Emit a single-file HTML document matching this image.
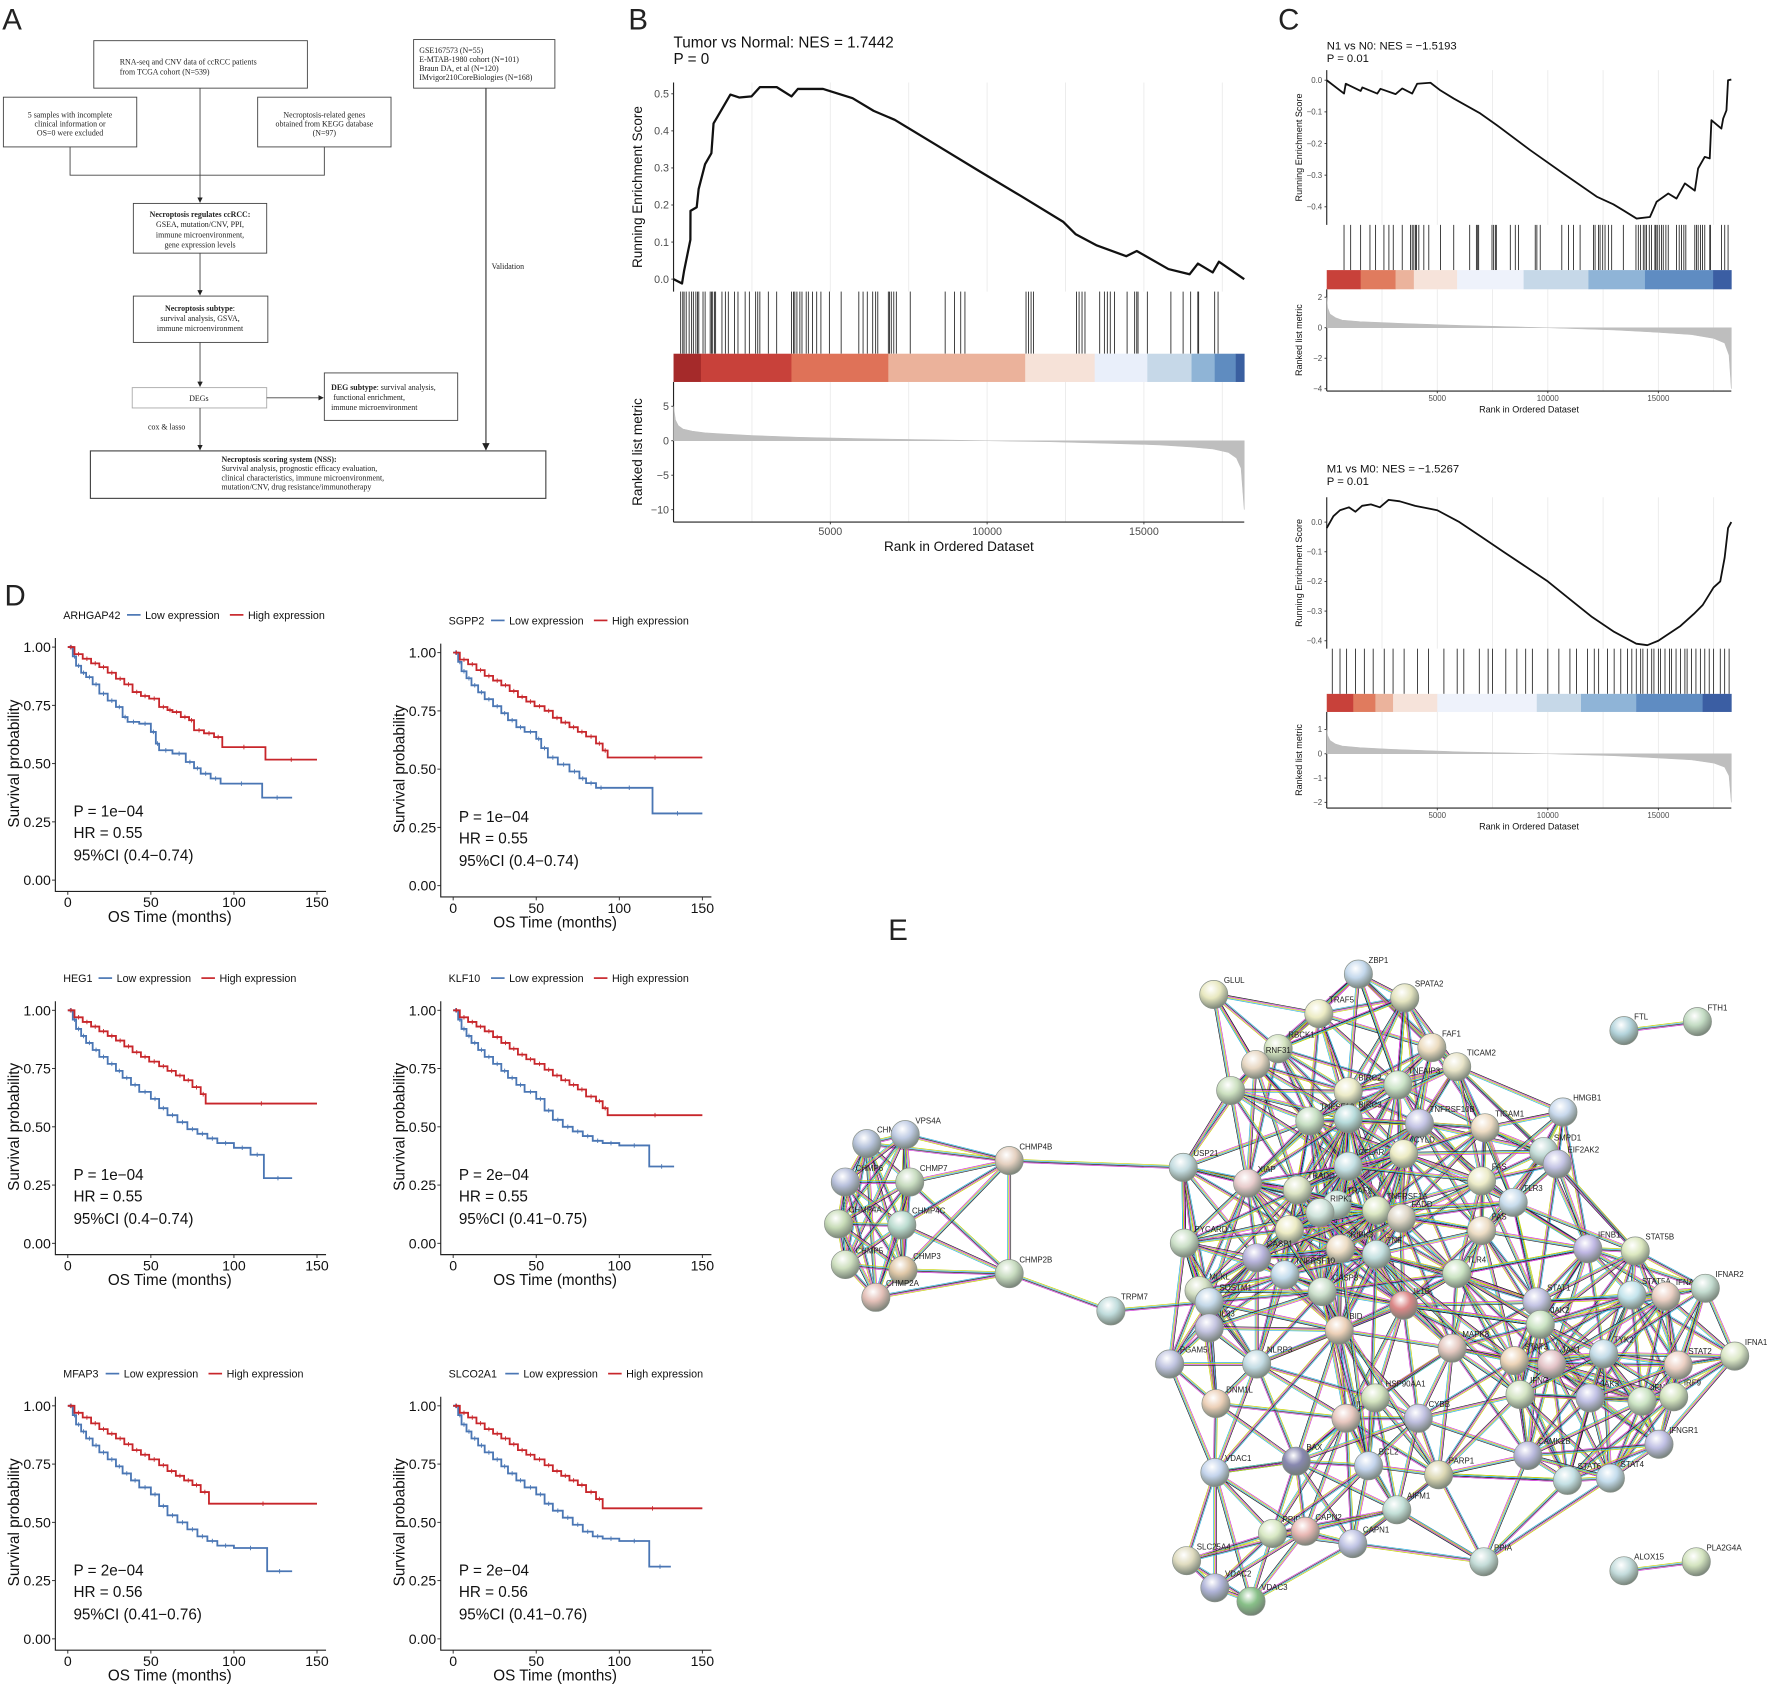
<!DOCTYPE html>
<html><head><meta charset="utf-8">
<style>
html,body{margin:0;padding:0;background:#fff;}
svg{display:block;}
.ff{font-family:"Liberation Serif",serif;}
.sf{font-family:"Liberation Sans",sans-serif;}
</style></head>
<body>
<svg id="fig" width="1772" height="1687" viewBox="0 0 1568 1492.8" preserveAspectRatio="none" xmlns="http://www.w3.org/2000/svg">
<defs>
<marker id="arr" viewBox="0 0 10 10" refX="9" refY="5" markerWidth="6" markerHeight="6" orient="auto"><path d="M0,0 L10,5 L0,10 z" fill="#222"/></marker>
</defs>
<g id="panelA" class="ff" font-size="7" fill="#222">
<text x="2" y="26" font-size="26" class="sf" font-family="Liberation Sans">A</text>
<g stroke="#444" stroke-width="0.8" fill="none">
<rect x="83" y="36" width="189" height="42"/>
<rect x="3" y="86" width="118" height="44"/>
<rect x="228" y="86" width="118" height="44"/>
<rect x="366" y="35" width="125" height="43"/>
<rect x="118" y="180" width="118" height="44"/>
<rect x="118" y="262" width="119" height="41"/>
<rect x="117" y="343" width="119" height="18" stroke="#aaa"/>
<rect x="287" y="330" width="118" height="42"/>
<rect x="80" y="399" width="403" height="42" stroke-width="1"/>
<polyline points="62,130 62,155 287,155 287,130"/>
<line x1="177" y1="78" x2="177" y2="179" marker-end="url(#arr)"/>
<line x1="177" y1="224" x2="177" y2="261" marker-end="url(#arr)"/>
<line x1="177" y1="303" x2="177" y2="342" marker-end="url(#arr)"/>
<line x1="236" y1="352" x2="286" y2="352" marker-end="url(#arr)"/>
<line x1="177" y1="361" x2="177" y2="398" marker-end="url(#arr)"/>
<line x1="430" y1="78" x2="430" y2="398" stroke-width="1.1" marker-end="url(#arr)"/>
</g>
<text x="106" y="57">RNA-seq and CNV data of ccRCC patients</text>
<text x="106" y="66">from TCGA cohort (N=539)</text>
<text x="62" y="104" text-anchor="middle">5 samples with incomplete</text>
<text x="62" y="112" text-anchor="middle">clinical information or</text>
<text x="62" y="120" text-anchor="middle">OS=0 were excluded</text>
<text x="287" y="104" text-anchor="middle">Necroptosis-related genes</text>
<text x="287" y="112" text-anchor="middle">obtained from KEGG database</text>
<text x="287" y="120" text-anchor="middle">(N=97)</text>
<text x="371" y="47">GSE167573 (N=55)</text>
<text x="371" y="55">E-MTAB-1980 cohort (N=101)</text>
<text x="371" y="63">Braun DA, et al (N=120)</text>
<text x="371" y="71">IMvigor210CoreBiologies (N=168)</text>
<text x="177" y="192" text-anchor="middle" font-weight="bold">Necroptosis regulates ccRCC:</text>
<text x="177" y="201" text-anchor="middle">GSEA, mutation/CNV, PPI,</text>
<text x="177" y="210" text-anchor="middle">immune microenvironment,</text>
<text x="177" y="219" text-anchor="middle">gene expression levels</text>
<text x="177" y="275" text-anchor="middle"><tspan font-weight="bold">Necroptosis subtype</tspan>:</text>
<text x="177" y="284" text-anchor="middle">survival analysis, GSVA,</text>
<text x="177" y="293" text-anchor="middle">immune microenvironment</text>
<text x="176" y="355" text-anchor="middle">DEGs</text>
<text x="293" y="345"><tspan font-weight="bold">DEG subtype</tspan>: survival analysis,</text>
<text x="295" y="354">functional enrichment,</text>
<text x="293" y="363">immune microenvironment</text>
<text x="131" y="380">cox &amp; lasso</text>
<text x="435" y="238">Validation</text>
<text x="196" y="409" font-weight="bold">Necroptosis scoring system (NSS):</text>
<text x="196" y="417">Survival analysis, prognostic efficacy evaluation,</text>
<text x="196" y="425">clinical characteristics, immune microenvironment,</text>
<text x="196" y="433">mutation/CNV, drug resistance/immunotherapy</text>
</g>
<text x="556" y="26" font-size="26" class="sf" fill="#222">B</text>
<text x="1131" y="26" font-size="26" class="sf" fill="#222">C</text>
<text x="4" y="536" font-size="26" class="sf" fill="#222">D</text>
<text x="786" y="832" font-size="26" class="sf" fill="#222">E</text>
<g id="gseaLayer" class="sf"></g>
<g id="kmLayer" class="sf"></g>
<g id="netLayer" class="sf"></g>
</svg>
<script>
// ================= GSEA DATA =================
const bRank = [0,270,336,537,540,740,800,1007,1209,1276,1545,1813,2100,2485,2754,3291,3761,3963,4769,5709,6381,7052,8396,9738,11081,12424,12827,13499,14439,14774,15782,16454,16723,17193,17394,18200];
const bES = [0,-0.012,0.022,0.106,0.184,0.194,0.243,0.31,0.34,0.42,0.459,0.498,0.49,0.493,0.518,0.518,0.493,0.513,0.513,0.488,0.454,0.43,0.361,0.292,0.224,0.155,0.121,0.091,0.062,0.076,0.027,0.013,0.042,0.018,0.047,0];
const bHits = [228,295,336,403,497,577,631,712,766,806,940,1007,1168,1209,1249,1303,1343,1544,1652,1746,1947,2055,2283,2417,2619,2686,2753,3022,3290,3760,3828,3868,3935,4029,4096,4230,4298,4432,4566,4700,4969,5345,5909,6044,6178,6352,6446,6514,6849,6890,6943,7024,7104,7548,8662,8958,9159,9293,11241,11321,11402,11483,12852,12933,13027,13121,13591,13739,13833,13927,14061,14464,14706,14773,14813,15109,15861,16250,16492,16720,16747,17258,17365];
const bColorBreaks = [0,873,3760,6849,11214,13430,15109,16519,17258,17929,18200];
const bColors = ["#a52a2a","#c8413a","#df7258","#ebb29b","#f6e2d8","#e9effa","#c6d8e8","#8fb4d6","#5f8cc0","#3a5fa0"];
const bMetricRank = [0,60,150,300,600,1000,1500,2500,4000,6000,8000,10000,12000,14000,15500,16500,17200,17700,17950,18100,18200];
const bMetricVal = [5,3,2.2,1.7,1.4,1.15,1,0.75,0.5,0.3,0.15,0,-0.15,-0.4,-0.6,-0.9,-1.2,-1.7,-2.5,-4,-10];
const c1Rank = [0,782,857,1534,1610,2286,2430,3113,3414,3865,4091,4692,5144,5745,6948,7700,9204,10708,12212,12964,13415,14017,14619,14920,15446,15822,16198,16649,16799,17100,17326,17401,17852,17930,18078,18153,18300];
const c1ES = [0,-0.042,-0.011,-0.034,-0.023,-0.042,-0.027,-0.044,-0.026,-0.042,-0.011,-0.008,-0.032,-0.058,-0.105,-0.142,-0.221,-0.295,-0.368,-0.392,-0.411,-0.437,-0.432,-0.384,-0.358,-0.374,-0.326,-0.349,-0.279,-0.242,-0.247,-0.126,-0.153,-0.121,-0.095,0,0.002];
const c1Hits = [782,1083,1534,1955,2211,2587,2812,3008,3414,3790,3865,3940,4015,4061,4166,4392,4617,5144,5745,6467,6768,6828,6873,7475,7550,7625,7670,8302,8528,8678,9430,9505,9656,10633,10934,11160,11460,12062,12137,12288,12363,12483,12588,12739,12889,13415,13987,14092,14198,14318,14393,14468,14589,14694,14844,14890,14950,15040,15145,15220,15341,15446,15822,15942,16047,16153,16243,16649,16724,16800,16905,16995,17100,17326,17356,17852,18003,18153];
const c1ColorBreaks = [0,1534,3113,3940,5896,8904,11837,14393,17476,18300];
const c1Colors = ["#c8413a","#e07b5e","#ebb39c","#f6e3da","#eef2fb","#c6d8e8","#8fb4d7","#5f8cc2","#3b5ea3"];
const c1MetricRank = [0,40,150,400,700,1500,3000,6000,10000,13000,15000,16500,17500,18000,18200,18300];
const c1MetricVal = [2,1.3,0.9,0.65,0.5,0.4,0.3,0.15,0,-0.15,-0.3,-0.45,-0.7,-1.0,-1.8,-4];
const c2Rank = [0,300,600,1000,1300,1600,2000,2400,2800,3300,4000,5000,6000,7000,8000,9000,10000,11000,12000,13000,14000,14500,15000,15600,16000,16600,17000,17500,17800,18000,18150,18300];
const c2ES = [-0.02,0.02,0.04,0.05,0.035,0.055,0.06,0.05,0.075,0.07,0.055,0.04,0,-0.05,-0.1,-0.15,-0.2,-0.26,-0.32,-0.37,-0.41,-0.415,-0.4,-0.37,-0.35,-0.31,-0.28,-0.22,-0.2,-0.12,-0.02,0];
const c2Hits = [250,600,900,1300,1700,2100,2600,3000,3500,4100,4600,5300,5900,6200,6900,7300,7500,8100,8600,9000,9300,10000,10500,11000,11300,11800,12100,12300,12700,13000,13300,13600,13800,14000,14200,14300,14500,14700,14800,15000,15100,15300,15500,15600,15800,16000,16200,16300,16500,16700,16900,17100,17300,17500,17800,18000,18200];
const c2ColorBreaks = [0,1200,2200,3000,5000,9500,11500,14000,17000,18300];
const c2Colors = ["#c8413a","#e07b5e","#ebb39c","#f6e3da","#eef2fb","#c6d8e8","#8fb4d7","#5f8cc2","#3b5ea3"];
const c2MetricRank = [0,40,150,400,700,1500,3000,6000,10000,13000,15000,16500,17500,18000,18200,18300];
const c2MetricVal = [1,0.75,0.55,0.4,0.32,0.25,0.18,0.08,0,-0.08,-0.17,-0.25,-0.38,-0.55,-0.9,-2];

// ================= KM DATA =================
const kmGenes = ["ARHGAP42","SGPP2","HEG1","KLF10","MFAP3","SLCO2A1"];
const kmP = ["P = 1e\u221204","P = 1e\u221204","P = 1e\u221204","P = 2e\u221204","P = 2e\u221204","P = 2e\u221204"];
const kmHR = ["HR = 0.55","HR = 0.55","HR = 0.55","HR = 0.55","HR = 0.56","HR = 0.56"];
const kmCI = ["95%CI (0.4\u22120.74)","95%CI (0.4\u22120.74)","95%CI (0.4\u22120.74)","95%CI (0.41\u22120.75)","95%CI (0.41\u22120.76)","95%CI (0.41\u22120.76)"];
const kmHighT = [
 [0,4,9,14,19,24,29,34,39,44,49,55,60,63,68,73,76,82,88,93,119,150],
 [0,4,9,14,19,24,29,34,39,44,49,55,60,65,70,75,80,86,90,93,150],
 [0,4,9,14,19,24,29,34,39,44,49,55,60,65,70,75,80,83,150],
 [0,4,9,14,19,24,29,34,39,44,49,55,60,65,70,75,80,86,90,93,150],
 [0,4,9,14,19,24,29,34,39,44,49,55,60,65,70,75,80,85,150],
 [0,4,9,14,19,24,29,34,39,44,49,55,60,65,70,75,80,86,90,150]];
const kmHighS = [
 [1,0.97,0.95,0.93,0.914,0.89,0.864,0.84,0.807,0.79,0.779,0.743,0.73,0.721,0.70,0.686,0.643,0.63,0.614,0.571,0.517,0.517],
 [1,0.97,0.95,0.925,0.90,0.88,0.86,0.835,0.81,0.79,0.77,0.75,0.72,0.70,0.68,0.66,0.64,0.61,0.58,0.55,0.55],
 [1,0.97,0.95,0.93,0.91,0.89,0.87,0.845,0.82,0.80,0.78,0.76,0.74,0.72,0.70,0.67,0.64,0.60,0.60],
 [1,0.97,0.95,0.93,0.91,0.885,0.86,0.835,0.81,0.79,0.77,0.745,0.72,0.70,0.68,0.66,0.63,0.61,0.58,0.55,0.55],
 [1,0.97,0.95,0.925,0.90,0.88,0.86,0.835,0.81,0.79,0.77,0.745,0.72,0.70,0.68,0.66,0.63,0.58,0.58],
 [1,0.97,0.95,0.925,0.90,0.88,0.86,0.835,0.81,0.79,0.77,0.745,0.72,0.70,0.68,0.66,0.63,0.60,0.56,0.56]];
const kmLowT = [
 [0,3,5,8,11,15,19,24,29,33,36,43,50,53,55,63,71,76,80,86,92,117,135],
 [0,3,5,8,11,15,19,24,29,33,38,43,50,53,57,63,70,76,80,86,92,120,150],
 [0,3,5,8,11,15,19,24,29,33,38,43,50,55,60,66,72,78,84,90,100,110,118,135],
 [0,3,5,8,11,15,19,24,29,33,38,43,50,55,60,66,72,78,84,90,100,118,133],
 [0,3,5,8,11,15,19,24,29,33,38,43,50,55,60,66,72,78,84,90,100,120,135],
 [0,3,5,8,11,15,19,24,29,33,38,43,50,55,60,66,72,78,84,90,100,118,131]];
const kmLowS = [
 [1,0.96,0.92,0.89,0.871,0.84,0.80,0.77,0.743,0.70,0.679,0.671,0.636,0.586,0.557,0.543,0.507,0.48,0.457,0.436,0.414,0.354,0.354],
 [1,0.96,0.92,0.89,0.86,0.83,0.80,0.77,0.74,0.71,0.68,0.66,0.63,0.59,0.55,0.52,0.49,0.46,0.44,0.42,0.42,0.31,0.31],
 [1,0.96,0.92,0.89,0.86,0.83,0.80,0.77,0.74,0.71,0.68,0.65,0.62,0.58,0.55,0.52,0.49,0.47,0.45,0.43,0.41,0.38,0.28,0.28],
 [1,0.96,0.92,0.89,0.86,0.83,0.80,0.77,0.74,0.71,0.68,0.65,0.62,0.57,0.53,0.50,0.48,0.46,0.44,0.43,0.42,0.33,0.33],
 [1,0.96,0.92,0.89,0.86,0.83,0.80,0.77,0.74,0.71,0.68,0.65,0.62,0.57,0.53,0.50,0.47,0.44,0.42,0.40,0.39,0.29,0.29],
 [1,0.96,0.92,0.89,0.86,0.83,0.80,0.77,0.74,0.71,0.68,0.65,0.62,0.58,0.55,0.52,0.49,0.46,0.44,0.43,0.42,0.31,0.31]];
const kmTicksY = ["0.00","0.25","0.50","0.75","1.00"];
const kmTicksX = ["0","50","100","150"];

// ================= NETWORK DATA =================
const netNames = ["CHMP1A","VPS4A","CHMP6","CHMP7","CHMP4A","CHMP4C","CHMP5","CHMP3","CHMP2A","CHMP4B","CHMP2B","TRPM7","USP21","GLUL","TRAF5","ZBP1","SPATA2","RBCK1","RNF31","","BIRC2","TNFAIP3","FAF1","TICAM2","TNFSF10","BIRC3","TNFRSF10B","TICAM1","HMGB1","SMPD1","EIF2AK2","CYLD","CFLAR","XIAP","TRADD","TRAF2","FAS","RIPK1","","TNFRSF1A","FADD","TLR3","FAS","PYCARD","CASP1","RIPK3","TNF","TLR4","TNFRSF10","MLKL","SQSTM1","CASP8","IL1B","IL33","BID","NLRP3","PGAM5","DNM1L","MAPK8","HSP90AA1","IL","CYBB","BAX","BCL2","VDAC1","PARP1","AIFM1","PPID","CAPN2","CAPN1","SLC25A4","VDAC2","VDAC3","PPIA","IFNB1","STAT5B","STAT1","STAT5A","IFNA","IFNAR2","JAK2","STAT3","JAK1","TYK2","STAT2","IFNA1","IFNG","JAK3","IFNGR2","IRF9","IFNGR1","CAMK2B","STAT6","STAT4","FTL","FTH1","ALOX15","PLA2G4A"];
const netX = [767,801,748,805,742,798,748,799,775,893,893,983,1047,1074,1167,1202,1243,1131,1111,1089,1193,1237,1267,1289,1159,1193,1256,1314,1383,1366,1378,1242,1193,1104,1148,1183,1311,1168,1141,1218,1240,1339,1311,1048,1112,1186,1218,1289,1137,1061,1070,1170,1242,1070,1185,1112,1035,1076,1285,1217,1191,1255,1147,1211,1075,1273,1236,1126,1155,1197,1050,1075,1107,1313,1405,1447,1360,1444,1474,1509,1363,1340,1373,1419,1485,1535,1345,1407,1453,1481,1468,1352,1387,1425,1437,1502,1437,1501];
const netY = [1012,1004,1046,1046,1083,1084,1119,1124,1148,1027,1127,1160,1033,880,897,862,883,928,942,965,966,960,927,944,992,990,994,998,984,1019,1030,1021,1032,1047,1053,1066,1045,1073,1088,1071,1078,1064,1089,1100,1113,1105,1110,1127,1128,1142,1152,1143,1155,1175,1177,1207,1207,1242,1193,1237,1255,1255,1293,1297,1303,1305,1336,1357,1355,1366,1381,1405,1417,1382,1105,1107,1152,1146,1147,1140,1172,1204,1207,1198,1208,1200,1234,1237,1240,1236,1278,1288,1310,1308,912,904,1390,1382];
const netColor = ["#b8c4dc","#c0cce4","#b8c0dc","#c8dcc0","#c8dcb8","#bcdcd0","#cfe0c0","#e0c8a8","#e4c0b8","#e4d0c0","#c8dcc0","#c0dcdc","#c4dce0","#e8e8c0","#ecebc4","#c4d8ec","#e4e4c0","#d4e4c0","#e8d8c4","#cce0c0","#ecebc8","#cce4c8","#ecdcc0","#e8e4c8","#c8e0c4","#b8dcdc","#c4c4e4","#eedcc4","#c8d8ec","#c4dcd8","#c4c4e4","#ecebc4","#c4e0e4","#e8cccc","#dce4c4","#c8e4dc","#ecebc8","#d0e4dc","#ecebc4","#dce8c4","#dcd4c4","#c8dcec","#ecdcc4","#cce0c8","#b8b4dc","#ecdcc4","#c4e0e0","#cce4c4","#c4dcec","#d4e0c4","#c4d8e8","#cce0cc","#dc8888","#c4c4e0","#ecd0b8","#c4dce4","#c0c4e0","#ecd0b8","#e4c8c0","#d4e4c0","#e8c8c0","#c0c0e0","#8888b0","#c4d4ec","#c4d4ec","#dcd8b4","#c4e0d8","#d8e8c4","#e8b8b4","#c0c4e4","#e0dcc0","#b0b4d8","#88c088","#c4dcd8","#c0b8e4","#dce8c0","#c4c4e4","#c4e4ec","#ecd0c4","#c4dcd0","#cce4c4","#ecd4b8","#e4c4c8","#c4dce8","#ecd0c4","#dce8c8","#d4e4c4","#c0c0e4","#cce4c4","#d4e4c0","#c0c0e4","#b8b8dc","#c4e0e4","#c4dcec","#b4d4dc","#c4dcc4","#c4dcdc","#d4e4c0"];
const netGroup = [0,0,0,0,0,0,0,0,0,0,0,2,1,1,1,1,1,1,1,1,1,1,1,1,1,1,1,1,1,1,1,1,1,1,1,1,1,1,1,1,1,1,1,1,1,1,1,1,1,1,1,1,1,1,1,1,1,1,1,1,1,1,1,1,1,1,1,1,1,1,1,1,1,1,1,1,1,1,1,1,1,1,1,1,1,1,1,1,1,1,1,1,1,1,3,3,4,4];
const netExtraA = ["CHMP4B","CHMP2B","TRPM7","GLUL","TRAF5","SPATA2","ZBP1","HMGB1","PPIA","PPIA","PARP1","USP21","USP21","IFNA1","BAX","TICAM2","SPATA2","STAT4","VDAC1","TNF","TNF","TNF","IL1B","IL1B","CASP8","CASP8","TLR4","TLR4","STAT1","STAT1","JAK2","XIAP","RIPK1","RIPK3","BID","MAPK8"];
const netExtraB = ["USP21","TRPM7","SQSTM1","RNF31","BIRC2","RBCK1","TNFAIP3","EIF2AK2","AIFM1","STAT4","STAT6","XIAP","PYCARD","STAT2","VDAC1","TLR3","TNFAIP3","CAMK2B","BAX","IFNG","STAT3","BCL2","NLRP3","JAK2","BCL2","PARP1","STAT1","IFNB1","IFNG","TNF","TLR4","CASP8","MAPK8","BCL2","VDAC1","STAT3"];

const NS = "http://www.w3.org/2000/svg";
function mk(tag, parent, attrs){
  const e = document.createElementNS(NS, tag);
  for (const k in attrs) e.setAttribute(k, attrs[k]);
  parent.appendChild(e);
  return e;
}
function txt(parent, x, y, s, size, anchor, fill){
  const t = mk('text', parent, {x:x, y:y, 'font-size':size, 'text-anchor':anchor||'start', fill:fill||'#222'});
  t.textContent = s;
  return t;
}

// ================= GSEA DRAW =================
const gl = document.getElementById('gseaLayer');
function gsea(cfg, ranks, es, hits, cbreaks, ccols, mr, mv){
  const g = mk('g', gl, {});
  
  
  const X = r => cfg.x0 + (r/cfg.maxR)*(cfg.x1-cfg.x0);
  const YE = v => cfg.esY0 + (v - cfg.esV0)/(cfg.esV1 - cfg.esV0)*(cfg.esY1-cfg.esY0);
  const YM = v => cfg.mY0 + (v - cfg.mV0)/(cfg.mV1 - cfg.mV0)*(cfg.mY1-cfg.mY0);
  for (let r=2500; r<cfg.maxR; r+=2500){
    const gr1 = mk('line', g, {x1:X(r), x2:X(r), y1:cfg.esTop, y2:cfg.hitTop, stroke:'#ebebeb', 'stroke-width':0.8});
    
    
    const gr2 = mk('line', g, {x1:X(r), x2:X(r), y1:cfg.colBot, y2:cfg.bottom, stroke:'#ebebeb', 'stroke-width':0.8});
    
    
  }
  const ax1 = mk('line', g, {x1:cfg.x0, x2:cfg.x0, y1:cfg.esTop, y2:cfg.hitTop, stroke:'#222', 'stroke-width':1});
  
  
  const ax2 = mk('line', g, {x1:cfg.x0, x2:cfg.x0, y1:cfg.colBot, y2:cfg.bottom, stroke:'#222', 'stroke-width':1});
  
  
  const ax3 = mk('line', g, {x1:cfg.x0, x2:cfg.x1, y1:cfg.bottom, y2:cfg.bottom, stroke:'#222', 'stroke-width':1});
  
  
  cfg.esTicks.forEach(v => {
    const t = txt(g, cfg.x0-4, YE(v)+cfg.tf*0.35, v.toFixed(1).replace('-', '\u2212'), cfg.tf, 'end', '#4d4d4d');
    
    
    mk('line', g, {x1:cfg.x0-2, x2:cfg.x0, y1:YE(v), y2:YE(v), stroke:'#333', 'stroke-width':0.8});
  });
  cfg.mTicks.forEach(v => {
    const t = txt(g, cfg.x0-4, YM(v)+cfg.tf*0.35, String(v).replace('-', '\u2212'), cfg.tf, 'end', '#4d4d4d');
    
    
    mk('line', g, {x1:cfg.x0-2, x2:cfg.x0, y1:YM(v), y2:YM(v), stroke:'#333', 'stroke-width':0.8});
  });
  [5000,10000,15000].forEach(r => {
    const t = txt(g, X(r), cfg.bottom+cfg.tf+2, String(r), cfg.tf, 'middle', '#4d4d4d');
    
    
    mk('line', g, {x1:X(r), x2:X(r), y1:cfg.bottom, y2:cfg.bottom+2, stroke:'#333', 'stroke-width':0.8});
  });
  let d = '';
  ranks.forEach((r,i) => { d += (i? 'L':'M') + X(r).toFixed(1) + ',' + YE(es[i]).toFixed(1); });
  const line = mk('path', g, {d:d, fill:'none', stroke:'#111', 'stroke-width':cfg.lw, 'stroke-linejoin':'round'});
  
  
  hits.forEach(r => {
    const h = mk('line', g, {x1:X(r), x2:X(r), y1:cfg.hitTop, y2:cfg.hitBot, stroke:'#111', 'stroke-width':0.7});
    
    
  });
  for (let i=0;i<ccols.length;i++){
    const rc = mk('rect', g, {x:X(cbreaks[i]), y:cfg.hitBot, width:X(cbreaks[i+1])-X(cbreaks[i])+0.3, height:cfg.colBot-cfg.hitBot, fill:ccols[i]});
    
    
  }
  let p = 'M' + X(mr[0]) + ',' + YM(0);
  mr.forEach((r,i) => { p += 'L' + X(r).toFixed(1) + ',' + YM(mv[i]).toFixed(1); });
  p += 'L' + X(mr[mr.length-1]) + ',' + YM(0) + 'Z';
  const area = mk('path', g, {d:p, fill:'#bebebe', stroke:'#bebebe', 'stroke-width':0.5});
  
  
  const t1 = txt(g, cfg.x0, cfg.titleY, cfg.title, cfg.titleF, 'start', '#111');
  
  
  const t2 = txt(g, cfg.x0, cfg.titleY + cfg.titleF*1.1, cfg.pval, cfg.titleF, 'start', '#111');
  
  
  const xt = txt(g, (cfg.x0+cfg.x1)/2, cfg.bottom+cfg.tf+4+cfg.af, 'Rank in Ordered Dataset', cfg.af, 'middle', '#111');
  
  
  const ye = txt(g, 0, 0, 'Running Enrichment Score', cfg.af, 'middle', '#111');
  ye.setAttribute('transform', 'translate(' + cfg.ytX + ',' + ((cfg.esTop+cfg.hitTop)/2) + ') rotate(-90)');
  
  
  const ym = txt(g, 0, 0, 'Ranked list metric', cfg.af, 'middle', '#111');
  ym.setAttribute('transform', 'translate(' + cfg.ytX + ',' + ((cfg.colBot+cfg.bottom)/2) + ') rotate(-90)');
  
  
}
gsea({name:'gsea-tumor-vs-normal', x0:596, x1:1101, maxR:18200, esTop:73, hitTop:258, hitBot:313, colBot:338, bottom:462,
  esV0:0, esY0:247, esV1:0.5, esY1:83, mV0:0, mY0:390, mV1:-10, mY1:451, esTicks:[0,0.1,0.2,0.3,0.4,0.5], mTicks:[5,0,-5,-10],
  tf:9.5, af:12, lw:2, titleY:42, titleF:13.5, title:'Tumor vs Normal: NES = 1.7442', pval:'P = 0', ytX:568},
  bRank, bES, bHits, bColorBreaks, bColors, bMetricRank, bMetricVal);
gsea({name:'gsea-n1-vs-n0', x0:1174, x1:1532, maxR:18300, esTop:62, hitTop:199, hitBot:239, colBot:256, bottom:346,
  esV0:0, esY0:71, esV1:-0.4, esY1:183, mV0:0, mY0:290, mV1:-4, mY1:344, esTicks:[0,-0.1,-0.2,-0.3,-0.4], mTicks:[2,0,-2,-4],
  tf:7, af:8, lw:1.6, titleY:44, titleF:10, title:'N1 vs N0: NES = \u22121.5193', pval:'P = 0.01', ytX:1152},
  c1Rank, c1ES, c1Hits, c1ColorBreaks, c1Colors, c1MetricRank, c1MetricVal);
gsea({name:'gsea-m1-vs-m0', x0:1174, x1:1532, maxR:18300, esTop:440, hitTop:574, hitBot:614, colBot:630, bottom:715,
  esV0:0, esY0:462, esV1:-0.4, esY1:567, mV0:0, mY0:667, mV1:-2, mY1:710, esTicks:[0,-0.1,-0.2,-0.3,-0.4], mTicks:[1,0,-1,-2],
  tf:7, af:8, lw:1.6, titleY:418, titleF:10, title:'M1 vs M0: NES = \u22121.5267', pval:'P = 0.01', ytX:1152},
  c2Rank, c2ES, c2Hits, c2ColorBreaks, c2Colors, c2MetricRank, c2MetricVal);

// ================= KM DRAW =================
const kl = document.getElementById('kmLayer');
const kmX0 = [60,401,60,401,60,401];
const kmY1 = [572.6,577.5,894,894,1244,1244];
function km(i){
  const g = mk('g', kl, {});
  
  
  const x0 = kmX0[i], y1 = kmY1[i], h = 206.2, w = 220.5;
  const X = t => x0 + t/150*w;
  const Y = s => y1 + (1-s)*h;
  const axl = mk('path', g, {d:'M'+(x0-11)+','+(y1-8)+'V'+(y1+h+10)+'H'+(x0+w+8), fill:'none', stroke:'#222', 'stroke-width':1});
  
  
  kmTicksY.forEach((s,k) => {
    const v = parseFloat(s);
    mk('line', g, {x1:x0-14, x2:x0-11, y1:Y(v), y2:Y(v), stroke:'#222', 'stroke-width':0.8});
    const t = txt(g, x0-15, Y(v)+4.5, s, 12.5, 'end', '#111');
    
    
  });
  kmTicksX.forEach(s => {
    const v = parseFloat(s);
    mk('line', g, {x1:X(v), x2:X(v), y1:y1+h+10, y2:y1+h+13, stroke:'#222', 'stroke-width':0.8});
    const t = txt(g, X(v), y1+h+24, s, 12.5, 'middle', '#111');
    
    
  });
  const xt = txt(g, x0+w/2-20, y1+h+37, 'OS Time (months)', 13.5, 'middle', '#111');
  
  
  const yt = txt(g, 0, 0, 'Survival probability', 13.5, 'middle', '#111');
  yt.setAttribute('transform', 'translate(' + (x0-43) + ',' + (y1+h/2) + ') rotate(-90)');
  
  
  function curve(T, S, col, nm){
    let d = 'M' + X(T[0]) + ',' + Y(S[0]);
    for (let k=1;k<T.length;k++){ d += 'H' + X(T[k]).toFixed(1) + 'V' + Y(S[k]).toFixed(1); }
    const p = mk('path', g, {d:d, fill:'none', stroke:col, 'stroke-width':1.6});
    
    
    for (let k=1;k<T.length;k++){
      const tm = (T[k-1]+T[k])/2;
      const c = mk('path', g, {d:'M'+(X(tm)-2)+','+Y(S[k-1])+'h4M'+X(tm)+','+(Y(S[k-1])-2)+'v4', stroke:col, 'stroke-width':0.8});
      
      
    }
  }
  curve(kmLowT[i], kmLowS[i], '#4a76b4', 'low-expression-curve');
  curve(kmHighT[i], kmHighS[i], '#c8262b', 'high-expression-curve');
  const a = txt(g, x0+5, y1+150, kmP[i], 13.5, 'start', '#111');
  
  
  const b = txt(g, x0+5, y1+169, kmHR[i], 13.5, 'start', '#111');
  
  
  const c = txt(g, x0+5, y1+189, kmCI[i], 13.5, 'start', '#111');
  
  
  const lg = mk('g', g, {});
  
  
  const ly = y1 - 25;
  txt(lg, x0-4, ly, kmGenes[i], 9.5, 'start', '#111');
  const gw = kmGenes[i].length*6.3 + 2;
  const lx = x0 - 4 + gw + 4;
  mk('line', lg, {x1:lx, x2:lx+12, y1:ly-3.5, y2:ly-3.5, stroke:'#4a76b4', 'stroke-width':1.5});
  const l1 = txt(lg, lx+16, ly, 'Low  expression', 9.5, 'start', '#111');
  
  
  mk('line', lg, {x1:lx+91, x2:lx+103, y1:ly-3.5, y2:ly-3.5, stroke:'#c8262b', 'stroke-width':1.5});
  const l2 = txt(lg, lx+107, ly, 'High expression', 9.5, 'start', '#111');
  
  
}
for (let i=0;i<6;i++) km(i);

// ================= NETWORK DRAW =================
const nl = document.getElementById('netLayer');
const eg = mk('g', nl, {});


const edgeCols = ['#d03ad6','#c4d000','#30b0e0','#222'];
function edge(a, b, n){
  const x1 = netX[a], y1 = netY[a], x2 = netX[b], y2 = netY[b];
  const L = Math.hypot(x2-x1, y2-y1) || 1;
  const nx = -(y2-y1)/L, ny = (x2-x1)/L;
  for (let k=0;k<n;k++){
    const o = (k-(n-1)/2)*0.9;
    const ln = mk('line', eg, {x1:x1+nx*o, y1:y1+ny*o, x2:x2+nx*o, y2:y2+ny*o, stroke:edgeCols[(a+b+k)%4], 'stroke-width':0.6});
    
    
  }
}
const N = netNames.length;
for (let a=0;a<N;a++){
  for (let b=a+1;b<N;b++){
    if (netGroup[a] !== netGroup[b]) continue;
    const dd = Math.hypot(netX[a]-netX[b], netY[a]-netY[b]);
    const lim = netGroup[a]===0 ? 140 : (netGroup[a]===1 ? 125 : 200);
    if (dd < lim) edge(a, b, 4);
  }
}
for (let k=0;k<netExtraA.length;k++){
  const a = netNames.indexOf(netExtraA[k]), b = netNames.indexOf(netExtraB[k]);
  if (a>=0 && b>=0) edge(a, b, 4);
}
const ng = mk('g', nl, {});


const defs = document.querySelector('defs');
for (let i=0;i<N;i++){
  const gid = 'ng' + i;
  const rg = mk('radialGradient', defs, {id:gid, cx:'0.4', cy:'0.3', r:'0.75'});
  mk('stop', rg, {offset:'0', 'stop-color':'#ffffff'});
  mk('stop', rg, {offset:'0.45', 'stop-color':netColor[i]});
  mk('stop', rg, {offset:'1', 'stop-color':'#6f7a70'});
  const c = mk('circle', ng, {cx:netX[i], cy:netY[i], r:12.5, fill:'url(#'+gid+')', stroke:'#889088', 'stroke-width':0.6});
  
  
  if (netNames[i]){
    const t = txt(ng, netX[i]+9, netY[i]-10, netNames[i], 7, 'start', '#222');
    
    
  }
}
</script>
</body></html>
